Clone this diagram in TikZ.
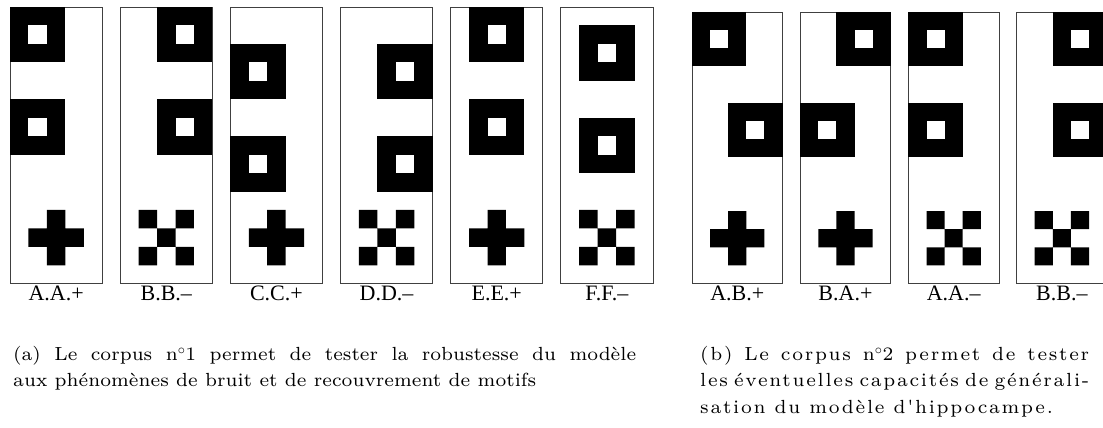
\documentclass[tikz,border=0pt]{standalone}
\usepackage{fontspec}
\usetikzlibrary{positioning}
\newfontfamily\labelfont{Liberation Serif}
\newfontfamily\capfontfam{lmroman7-regular.otf}
\newfontfamily\capwidefam{lmroman7-regular.otf}[LetterSpace=9]

\begin{document}
\begin{tikzpicture}[
    x=1pt, y=-1pt,
    panelL/.style={rectangle, draw=black!75, line width=0.8pt, minimum width=92.25pt, minimum height=276.75pt, inner sep=0pt, outer sep=0pt},
    panelR/.style={panelL, minimum width=90.5pt, minimum height=271.5pt},
    tag/.style={font=\labelfont\fontsize{22}{26}\selectfont, inner sep=0pt, text height=15pt, text depth=0pt},
    caption/.style={font=\capfontfam\fontsize{19}{26.5}\selectfont, inner sep=0pt, align=justify, anchor=north west},
    captionwide/.style={caption, font=\capwidefam\fontsize{19}{26.5}\selectfont},
    cellL/.style={x=18.45pt, y=-18.45pt},
    cellR/.style={x=18.1pt, y=-18.1pt},
    ring/.pic={\fill (0,0) rectangle (3,3); \fill[white] (1,1) rectangle (2,2);},
    plusmark/.pic={\fill (1,0) rectangle (2,3) (0,1) rectangle (3,2);},
    xmark/.pic={\fill (0,0) rectangle (1,1) (2,0) rectangle (3,1) (1,1) rectangle (2,2) (0,2) rectangle (1,3) (2,2) rectangle (3,3);},
    node distance=17.9pt
]
    \path[use as bounding box] (0,0) rectangle (1103,428);
    \clip (0,0) rectangle (1103,428);

    % Corpus 1
    \node[panelL, anchor=north west] (aaplus) at (10,7) {};
    \node[panelL, right=of aaplus] (bbminus) {};
    \node[panelL, right=of bbminus] (ccplus) {};
    \node[panelL, right=of ccplus] (ddminus) {};
    \node[panelL, right=of ddminus] (eeplus) {};
    \node[panelL, right=of eeplus] (ffminus) {};

    \begin{scope}[shift={(aaplus.north west)}, cellL]
        \pic at (0,0) {ring}; \pic at (0,5) {ring}; \pic at (1,11) {plusmark};
    \end{scope}
    \begin{scope}[shift={(bbminus.north west)}, cellL]
        \pic at (2,0) {ring}; \pic at (2,5) {ring}; \pic at (1,11) {xmark};
    \end{scope}
    \begin{scope}[shift={(ccplus.north west)}, cellL]
        \pic at (0,2) {ring}; \pic at (0,7) {ring}; \pic at (1,11) {plusmark};
    \end{scope}
    \begin{scope}[shift={(ddminus.north west)}, cellL]
        \pic at (2,2) {ring}; \pic at (2,7) {ring}; \pic at (1,11) {xmark};
    \end{scope}
    \begin{scope}[shift={(eeplus.north west)}, cellL]
        \pic at (1,0) {ring}; \pic at (1,5) {ring}; \pic at (1,11) {plusmark};
    \end{scope}
    \begin{scope}[shift={(ffminus.north west)}, cellL]
        \pic at (1,1) {ring}; \pic at (1,6) {ring}; \pic at (1,11) {xmark};
    \end{scope}

    \node[tag, below=2pt of aaplus] (aapluslab) {A.A.+};
    \node[tag, below=2pt of bbminus] (bbminuslab) {B.B.–};
    \node[tag, below=2pt of ccplus] (ccpluslab) {C.C.+};
    \node[tag, below=2pt of ddminus] (ddminuslab) {D.D.–};
    \node[tag, below=2pt of eeplus] (eepluslab) {E.E.+};
    \node[tag, below=2pt of ffminus] (ffminuslab) {F.F.–};

    % Corpus 2
    \node[panelR, anchor=north west] (abplus) at (692,12) {};
    \node[panelR, right=17.7pt of abplus] (baplus) {};
    \node[panelR, right=17.7pt of baplus] (aaminus) {};
    \node[panelR, right=17.7pt of aaminus] (bbminustwo) {};

    \begin{scope}[shift={(abplus.north west)}, cellR]
        \pic at (0,0) {ring}; \pic at (2,5) {ring}; \pic at (1,11) {plusmark};
    \end{scope}
    \begin{scope}[shift={(baplus.north west)}, cellR]
        \pic at (2,0) {ring}; \pic at (0,5) {ring}; \pic at (1,11) {plusmark};
    \end{scope}
    \begin{scope}[shift={(aaminus.north west)}, cellR]
        \pic at (0,0) {ring}; \pic at (0,5) {ring}; \pic at (1,11) {xmark};
    \end{scope}
    \begin{scope}[shift={(bbminustwo.north west)}, cellR]
        \pic at (2,0) {ring}; \pic at (2,5) {ring}; \pic at (1,11) {xmark};
    \end{scope}

    \node[tag, below=2pt of abplus] (abpluslab) {A.B.+};
    \node[tag, below=2pt of baplus] (bapluslab) {B.A.+};
    \node[tag, below=2pt of aaminus] (aaminuslab) {A.A.–};
    \node[tag, below=2pt of bbminustwo] (bbminustwolab) {B.B.–};

    % Captions
    \node[caption, text width=623pt] (capa) at (13,346) {(a) Le corpus n$^\circ$1 permet de tester la robustesse du modèle\linebreak aux phénomènes de bruit et de recouvrement de motifs};
    \node[captionwide, text width=389pt] (capb) at (700,346) {(b) Le corpus n$^\circ$2 permet de tester\linebreak les éventuelles capacités de générali-\linebreak sation du modèle d'hippocampe.};

\end{tikzpicture}
\end{document}
